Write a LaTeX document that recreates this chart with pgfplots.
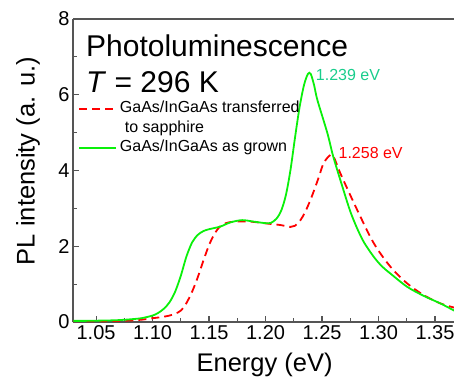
\documentclass[border=0pt]{standalone}
\usepackage{fontspec}
\setmainfont{Liberation Sans}
\usepackage{pgfplots}
\pgfplotsset{compat=1.18}
\definecolor{mygreen}{RGB}{10,240,10}
\definecolor{myred}{RGB}{255,0,0}
\definecolor{myteal}{RGB}{25,205,140}
\definecolor{axgray}{RGB}{85,85,85}
\begin{document}
\begin{tikzpicture}
\begin{axis}[
  scale only axis, width=381pt, height=303pt,
  xmin=1.0296, xmax=1.3668, ymin=0, ymax=8,
  axis x line*=box, axis y line*=left,
  y axis line style={-},
  axis line style={axgray, line width=1.4pt},
  xtick={1.05,1.10,1.15,1.20,1.25,1.30,1.35},
  ytick={0,2,4,6,8},
  minor x tick num=1, minor y tick num=1,
  xtick pos=left, ytick pos=left,
  tick align=inside,
  major tick length=6pt, minor tick length=4pt,
  every tick/.style={axgray, line width=1.1pt},
  /pgf/number format/assume math mode=true,
  xticklabel style={font=\fontsize{20}{24}\selectfont, /pgf/number format/.cd, fixed, fixed zerofill, precision=2},
  yticklabel style={font=\fontsize{20}{24}\selectfont},
  xlabel={Energy (eV)},
  xlabel style={font=\fontsize{25.5}{30}\selectfont, at={(axis description cs:0.503,-0.142)}, anchor=center},
  ylabel={PL intensity (a. u.)},
  ylabel style={font=\fontsize{25.5}{30}\selectfont, at={(axis description cs:-0.118,0.531)}, anchor=center},
  legend style={at={(axis description cs:0.013,0.731)}, anchor=north west, draw=none, fill=none,
    inner sep=0pt, font=\fontsize{16}{19.5}\selectfont,
    nodes={inner sep=0pt, text height=12pt, text depth=4pt},
    row sep=3.5pt, column sep=3pt},
  legend cell align=left,
  legend image code/.code={\draw[#1] (0pt,0pt) -- (37pt,0pt);},
]
\addplot[color=myred, line width=1.8pt, dash pattern=on 8pt off 5pt, smooth, tension=0.5] table {
1.030 0.02
1.050 0.02
1.070 0.03
1.080 0.04
1.090 0.06
1.100 0.10
1.108 0.13
1.115 0.17
1.120 0.22
1.125 0.30
1.130 0.50
1.135 0.80
1.140 1.18
1.145 1.62
1.150 2.03
1.155 2.34
1.160 2.53
1.165 2.61
1.172 2.65
1.1866 2.65
1.2014 2.60
1.2132 2.56
1.222 2.51
1.226 2.54
1.2309 2.69
1.2350 2.90
1.2397 3.22
1.2430 3.48
1.2471 3.82
1.2515 4.20
1.2574 4.41
1.2605 4.35
1.2663 3.92
1.2811 2.96
1.2958 2.08
1.3105 1.46
1.3253 1.02
1.340 0.71
1.3548 0.49
1.367 0.38
};
\addlegendentry{GaAs/InGaAs transferred}
\addlegendimage{empty legend}
\addlegendentry{\hspace*{5pt}to sapphire}
\addplot[color=mygreen, line width=1.8pt, smooth, tension=0.5] table {
1.030 0.03
1.040 0.03
1.050 0.035
1.060 0.04
1.070 0.05
1.080 0.07
1.090 0.10
1.100 0.17
1.105 0.24
1.110 0.35
1.115 0.52
1.120 0.80
1.125 1.22
1.130 1.73
1.135 2.10
1.140 2.30
1.145 2.40
1.150 2.45
1.160 2.52
1.1689 2.63
1.1793 2.69
1.1896 2.65
1.200 2.61
1.205 2.62
1.210 2.74
1.214 2.95
1.218 3.35
1.222 4.00
1.226 4.85
1.230 5.65
1.234 6.25
1.2375 6.55
1.2400 6.55
1.2430 6.25
1.2459 5.86
1.2548 4.98
1.2600 4.36
1.2690 3.48
1.275 2.92
1.2811 2.47
1.2872 2.10
1.2958 1.72
1.303 1.47
1.3105 1.28
1.3253 0.93
1.340 0.69
1.3548 0.49
1.367 0.30
};
\addlegendentry{GaAs/InGaAs as grown}
\node[anchor=base west, inner sep=0pt, font=\fontsize{30}{34}\selectfont] at (axis description cs:0.034,0.875) {Photoluminescence};
\node[anchor=base west, inner sep=0pt, font=\fontsize{30}{34}\selectfont] at (axis description cs:0.034,0.756) {\textit{T} = 296 K};
\node[anchor=west, inner sep=0pt, text=myteal, font=\fontsize{16}{18}\selectfont] at (axis cs:1.2444,6.52) {1.239 eV};
\node[anchor=west, inner sep=0pt, text=myred, font=\fontsize{16}{18}\selectfont] at (axis cs:1.2645,4.46) {1.258 eV};
\end{axis}
\pgfresetboundingbox
\useasboundingbox (-73pt,-59pt) rectangle (381pt,322pt);
\end{tikzpicture}
\end{document}
